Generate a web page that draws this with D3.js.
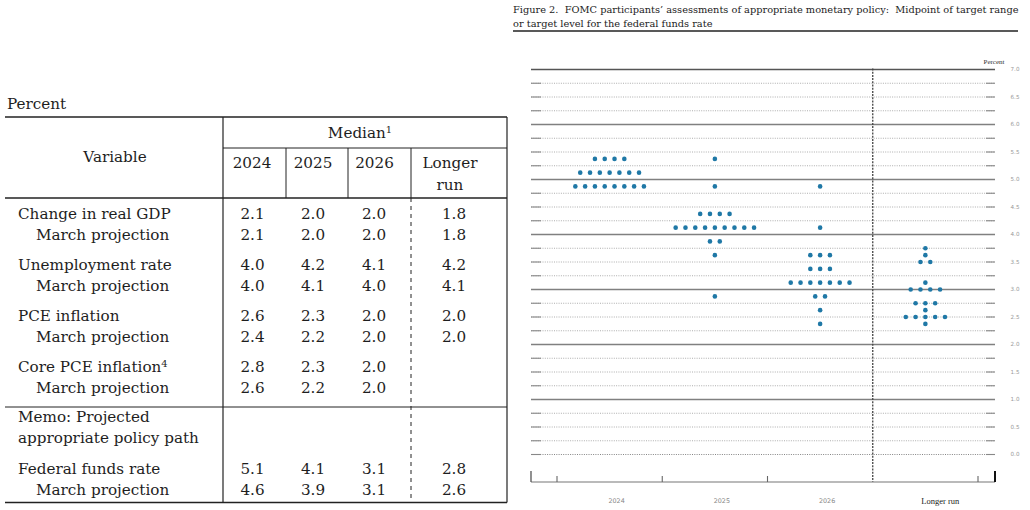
<!DOCTYPE html>
<html>
<head>
<meta charset="utf-8">
<script src="https://cdn.jsdelivr.net/npm/d3@7"></script>
<style>
  html, body { margin: 0; padding: 0; background: #fff; }
  svg { display: block; }
  text { white-space: pre; }
</style>
</head>
<body>
<svg id="chart" width="1030" height="510"></svg>
<script>
// ---------------- DATA ----------------
// Table (left)
const variables = ["Change in real GDP", "Unemployment rate", "PCE inflation", "Core PCE inflation", "Federal funds rate"];
const variableNotes = ["", "", "", "4", ""];
const subLabel = "March projection";
const tableColumns = ["2024", "2025", "2026", "Longer run"];
const median2024 = [2.1, 4.0, 2.6, 2.8, 5.1];
const median2025 = [2.0, 4.2, 2.3, 2.3, 4.1];
const median2026 = [2.0, 4.1, 2.0, 2.0, 3.1];
const medianLR   = [1.8, 4.2, 2.0, null, 2.8];
const march2024  = [2.1, 4.0, 2.4, 2.6, 4.6];
const march2025  = [2.0, 4.1, 2.2, 2.2, 3.9];
const march2026  = [2.0, 4.0, 2.0, 2.0, 3.1];
const marchLR    = [1.8, 4.1, 2.0, null, 2.6];

// Dot plot (right) - one entry per participant
const dotCategories = ["2024", "2025", "2026", "Longer run"];
const dots2024 = [5.375, 5.375, 5.375, 5.375,
                  5.125, 5.125, 5.125, 5.125, 5.125, 5.125, 5.125,
                  4.875, 4.875, 4.875, 4.875, 4.875, 4.875, 4.875, 4.875];
const dots2025 = [5.375, 4.875,
                  4.375, 4.375, 4.375, 4.375,
                  4.125, 4.125, 4.125, 4.125, 4.125, 4.125, 4.125, 4.125, 4.125,
                  3.875, 3.875, 3.625, 2.875];
const dots2026 = [4.875, 4.125,
                  3.625, 3.625, 3.625,
                  3.375, 3.375, 3.375,
                  3.125, 3.125, 3.125, 3.125, 3.125, 3.125, 3.125,
                  2.875, 2.875, 2.625, 2.375];
const dotsLR   = [3.75, 3.625, 3.5, 3.5, 3.125,
                  3.0, 3.0, 3.0, 3.0,
                  2.75, 2.75, 2.75, 2.625,
                  2.5, 2.5, 2.5, 2.5, 2.5, 2.375];
const yTickLabels = ["0.0", "0.5", "1.0", "1.5", "2.0", "2.5", "3.0", "3.5", "4.0", "4.5", "5.0", "5.5", "6.0", "6.5", "7.0"];
const figureTitle = ["Figure 2.  FOMC participants\u2019 assessments of appropriate monetary policy:  Midpoint of target range",
                     "or target level for the federal funds rate"];

// ---------------- DRAW ----------------
const svg = d3.select("#chart");
const serif = "'DejaVu Serif', serif";
const ink = "#1e1e1e";

// ===== TABLE =====
const T = svg.append("g");
const tFont = 15.2;
const xLeft = 5, xRight = 507, xVar = 223;
const colCenters = [252.5, 313, 374, 454];
const headCenters = [252, 313, 374.5, 450];

T.append("text").attr("x", 7).attr("y", 104).attr("dy", "0.35em")
  .attr("font-family", serif).attr("font-size", tFont).attr("fill", ink).text("Percent");

function hline(y, x1, x2, w) {
  T.append("line").attr("x1", x1).attr("x2", x2).attr("y1", y).attr("y2", y)
    .attr("stroke", "#222").attr("stroke-width", w);
}
function vline(x, y1, y2, w, dash) {
  T.append("line").attr("x1", x).attr("x2", x).attr("y1", y1).attr("y2", y2)
    .attr("stroke", "#222").attr("stroke-width", w).attr("stroke-dasharray", dash || null);
}
hline(117, xLeft, xRight, 1.6);
hline(148, xVar, xRight, 1);
hline(198, xLeft, xRight, 1.3);
hline(407, xLeft, xRight, 1);
hline(502.5, xLeft, xRight, 1.6);
vline(xVar, 117, 502.5, 1.2);
vline(xRight, 117, 502.5, 1.2);
[286, 348, 411].forEach(x => vline(x, 148, 198, 1));
vline(411, 198, 502.5, 1, "4,4");

// header
const med = T.append("text").attr("x", 360).attr("y", 133).attr("dy", "0.35em")
  .attr("text-anchor", "middle").attr("font-family", serif).attr("font-size", tFont).attr("fill", ink);
med.append("tspan").text("Median");
med.append("tspan").attr("font-size", tFont * 0.65).attr("dy", "-0.55em").text("1");

T.append("text").attr("x", 115).attr("y", 157).attr("dy", "0.35em")
  .attr("text-anchor", "middle").attr("font-family", serif).attr("font-size", tFont).attr("fill", ink).text("Variable");

tableColumns.forEach((c, i) => {
  const parts = c === "Longer run" ? ["Longer", "run"] : [c];
  parts.forEach((p, j) => {
    T.append("text").attr("x", headCenters[i]).attr("y", 163 + j * 21.5).attr("dy", "0.35em")
      .attr("text-anchor", "middle").attr("font-family", serif).attr("font-size", tFont).attr("fill", ink).text(p);
  });
});

// body
const medianCols = [median2024, median2025, median2026, medianLR];
const marchCols = [march2024, march2025, march2026, marchLR];
const rowY = [214, 265, 316, 367, 469];
const subGap = 20.5;
variables.forEach((v, i) => {
  const t = T.append("text").attr("x", 18).attr("y", rowY[i]).attr("dy", "0.35em")
    .attr("font-family", serif).attr("font-size", tFont).attr("fill", ink);
  t.append("tspan").text(v);
  if (variableNotes[i]) t.append("tspan").attr("font-size", tFont * 0.65).attr("dy", "-0.55em").text(variableNotes[i]);
  T.append("text").attr("x", 36).attr("y", rowY[i] + subGap).attr("dy", "0.35em")
    .attr("font-family", serif).attr("font-size", tFont).attr("fill", ink).text(subLabel);
  medianCols.forEach((col, c) => {
    if (col[i] != null) T.append("text").attr("x", colCenters[c]).attr("y", rowY[i]).attr("dy", "0.35em")
      .attr("text-anchor", "middle").attr("font-family", serif).attr("font-size", tFont).attr("fill", ink)
      .text(d3.format(".1f")(col[i]));
  });
  marchCols.forEach((col, c) => {
    if (col[i] != null) T.append("text").attr("x", colCenters[c]).attr("y", rowY[i] + subGap).attr("dy", "0.35em")
      .attr("text-anchor", "middle").attr("font-family", serif).attr("font-size", tFont).attr("fill", ink)
      .text(d3.format(".1f")(col[i]));
  });
});
T.append("text").attr("x", 18).attr("y", 417).attr("dy", "0.35em")
  .attr("font-family", serif).attr("font-size", tFont).attr("fill", ink).text("Memo: Projected");
T.append("text").attr("x", 18).attr("y", 438).attr("dy", "0.35em")
  .attr("font-family", serif).attr("font-size", tFont).attr("fill", ink).text("appropriate policy path");

// ===== DOT PLOT =====
const P = svg.append("g");
figureTitle.forEach((line, i) => {
  P.append("text").attr("x", 513).attr("y", 10 + i * 13.5).attr("dy", "0.35em")
    .attr("font-family", serif).attr("font-size", 9.8).attr("fill", "#222").text(line);
});
P.append("line").attr("x1", 513).attr("x2", 1018).attr("y1", 31).attr("y2", 31)
  .attr("stroke", "#222").attr("stroke-width", 1.5);

const plotL = 531, plotR = 995, baseY = 482;
const y = d3.scaleLinear().domain([0, 7]).range([454.5, 69.5]);
const x = d3.scaleBand().domain(dotCategories).range([557, 978]).paddingInner(0).paddingOuter(0);

// grid lines every 0.25
const gridVals = d3.range(0, 7.001, 0.25);
gridVals.forEach(v => {
  const isInt = Math.abs(v - Math.round(v)) < 1e-6 && v > 0;
  const yy = y(v);
  if (isInt) {
    P.append("line").attr("x1", plotL).attr("x2", plotR).attr("y1", yy).attr("y2", yy)
      .attr("stroke", v === 7 ? "#555" : "#808080").attr("stroke-width", 1.4);
  } else {
    P.append("line").attr("x1", plotL).attr("x2", plotR).attr("y1", yy).attr("y2", yy)
      .attr("stroke", v === 0 ? "#666" : "#999").attr("stroke-width", 0.8).attr("stroke-dasharray", "1,1.3");
    P.append("line").attr("x1", plotL).attr("x2", plotL + 10).attr("y1", yy).attr("y2", yy)
      .attr("stroke", "#888").attr("stroke-width", 1.1);
    P.append("line").attr("x1", plotR - 9).attr("x2", plotR).attr("y1", yy).attr("y2", yy)
      .attr("stroke", "#888").attr("stroke-width", 1.1);
  }
});

// y tick labels
yTickLabels.forEach(lbl => {
  P.append("text").attr("x", 1015).attr("y", y(+lbl)).attr("dy", "0.35em")
    .attr("text-anchor", "middle").attr("font-family", "'DejaVu Sans', sans-serif")
    .attr("font-size", 5.6).attr("fill", "#999").text(lbl);
});
P.append("text").attr("x", 994).attr("y", 62).attr("dy", "0.35em")
  .attr("text-anchor", "middle").attr("font-family", "'Liberation Serif', serif")
  .attr("font-size", 7).attr("fill", "#333").text("Percent");

// vertical dashed divider before Longer run
const divX = x("Longer run");
P.append("line").attr("x1", divX).attr("x2", divX).attr("y1", y(7) - 1).attr("y2", baseY)
  .attr("stroke", "#444").attr("stroke-width", 1.3).attr("stroke-dasharray", "2,1.2");

// bottom axis
P.append("line").attr("x1", plotL).attr("x2", plotR).attr("y1", baseY).attr("y2", baseY)
  .attr("stroke", "#777").attr("stroke-width", 1.2);
const bounds = [x.range()[0]].concat(dotCategories.map(c => x(c) + x.bandwidth()));
bounds.forEach(b => {
  if (Math.abs(b - divX) < 0.5) return;
  P.append("line").attr("x1", b).attr("x2", b).attr("y1", baseY - 6).attr("y2", baseY)
    .attr("stroke", "#666").attr("stroke-width", 1.1);
});
P.append("line").attr("x1", plotL).attr("x2", plotL).attr("y1", baseY - 11).attr("y2", baseY)
  .attr("stroke", "#555").attr("stroke-width", 1.3);
P.append("line").attr("x1", plotR).attr("x2", plotR).attr("y1", baseY - 11).attr("y2", baseY)
  .attr("stroke", "#111").attr("stroke-width", 2);

// category labels
dotCategories.forEach(c => {
  const isLR = c === "Longer run";
  P.append("text").attr("x", x(c) + x.bandwidth() / 2 + (isLR ? 15 : 7)).attr("y", 501).attr("dy", "0.35em")
    .attr("text-anchor", "middle")
    .attr("font-family", isLR ? "'Liberation Serif', serif" : "'DejaVu Sans', sans-serif")
    .attr("font-size", isLR ? 8.5 : 6.4).attr("fill", isLR ? "#222" : "#888").text(c);
});

// dots
const dotSets = [dots2024, dots2025, dots2026, dotsLR];
const spacing = 9.8;
dotCategories.forEach((c, ci) => {
  const groups = d3.groups(dotSets[ci], d => d);
  const cx = x(c) + x.bandwidth() / 2;
  groups.forEach(([val, arr]) => {
    const n = arr.length;
    arr.forEach((_, k) => {
      P.append("circle")
        .attr("cx", cx + (k - (n - 1) / 2) * spacing)
        .attr("cy", y(val))
        .attr("r", 2.3)
        .attr("fill", "#1f78a6");
    });
  });
});
</script>
</body>
</html>
